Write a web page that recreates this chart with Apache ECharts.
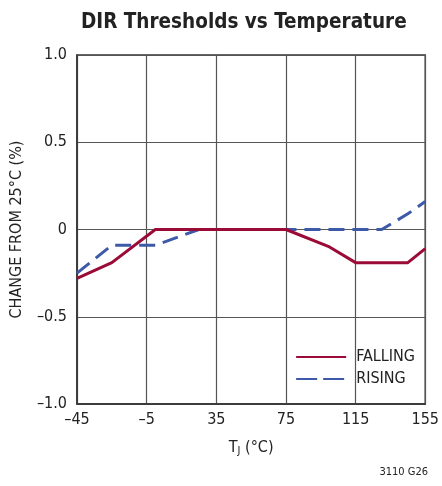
<!DOCTYPE html>
<html>
<head>
<meta charset="utf-8">
<script src="https://cdn.jsdelivr.net/npm/echarts@6/dist/echarts.min.js"></script>
<style>
  html, body { margin: 0; padding: 0; background: #fff; }
  #chart { width: 442px; height: 486px; }
</style>
</head>
<body>
<div id="chart"></div>
<script>
// temperature (°C) vs change from 25°C (%)
var fallingTemp = [-45, -25, 0, 25, 50, 75, 100, 115, 145, 155];
var fallingVal  = [-0.28, -0.19, 0, 0, 0, 0, -0.1, -0.19, -0.19, -0.11];
var risingTemp  = [-45, -25, 0, 25, 50, 75, 100, 130, 145, 155];
var risingVal   = [-0.25, -0.09, -0.09, 0, 0, 0, 0, 0, 0.09, 0.16];

var font = '"DejaVu Sans Condensed", "Liberation Sans", Arial, sans-serif';

function pairs(xs, ys) {
  var out = [];
  for (var i = 0; i < xs.length; i++) out.push([xs[i], ys[i]]);
  return out;
}
function minus(s) { return String(s).replace('-', '\u2013'); }

var chart = echarts.init(document.getElementById('chart'));
chart.setOption({
  animation: false,
  title: {
    text: 'DIR Thresholds vs Temperature',
    left: 76,
    top: 7,
    textStyle: { fontFamily: font, fontSize: 20.5, fontWeight: 'bold', color: '#222' }
  },
  grid: {
    left: 77, right: 14, top: 55, bottom: 82,
    show: true, borderColor: '#333', borderWidth: 1.5
  },
  legend: {
    orient: 'vertical',
    right: 22, bottom: 94,
    itemWidth: 50, itemHeight: 10, itemGap: 6,
    itemStyle: { opacity: 0 },
    textStyle: { fontFamily: font, fontSize: 16, color: '#222', padding: [0, 0, 0, 5] },
    data: [
      'FALLING',
      { name: 'RISING', lineStyle: { type: [21, 6] } }
    ]
  },
  xAxis: {
    type: 'value',
    min: -45, max: 155, interval: 40,
    name: '{t|T}{s|J}{t| (°C)}',
    nameLocation: 'middle',
    nameGap: 34,
    nameTextStyle: {
      rich: {
        t: { fontFamily: font, fontSize: 16, color: '#222' },
        s: { fontFamily: font, fontSize: 11, color: '#222', verticalAlign: 'bottom', padding: [8, 0, 0, 0] }
      }
    },
    axisLine: { onZero: false, lineStyle: { color: '#333', width: 1.5 } },
    axisTick: { show: false },
    axisLabel: {
      fontFamily: font, fontSize: 16, color: '#222', margin: 8,
      formatter: function (v) { return minus(v); }
    },
    splitLine: { lineStyle: { color: '#555', width: 1.2 } }
  },
  yAxis: {
    type: 'value',
    min: -1, max: 1, interval: 0.5,
    name: 'CHANGE FROM 25°C (%)',
    nameLocation: 'middle',
    nameGap: 52,
    nameTextStyle: { fontFamily: font, fontSize: 16, color: '#222' },
    axisLine: { show: true, onZero: false, lineStyle: { color: '#333', width: 1.5 } },
    axisTick: { show: false },
    axisLabel: {
      fontFamily: font, fontSize: 16, color: '#222', margin: 10,
      formatter: function (v) { return v === 0 ? '0' : minus(v.toFixed(1)); }
    },
    splitLine: { lineStyle: { color: '#555', width: 1.2 } }
  },
  series: [
    {
      name: 'FALLING',
      type: 'line',
      symbol: 'none',
      data: pairs(fallingTemp, fallingVal),
      lineStyle: { color: '#9b0b37', width: 3 },
      itemStyle: { color: '#9b0b37' },
      z: 3
    },
    {
      name: 'RISING',
      type: 'line',
      symbol: 'none',
      data: pairs(risingTemp, risingVal),
      lineStyle: { color: '#3c5aa8', width: 3, type: [16, 8] },
      itemStyle: { color: '#3c5aa8' },
      z: 2
    }
  ],
  graphic: [{
    type: 'text',
    right: 14, bottom: 8,
    style: { text: '3110 G26', font: '11px ' + font, fill: '#222' }
  }]
});
</script>
</body>
</html>
